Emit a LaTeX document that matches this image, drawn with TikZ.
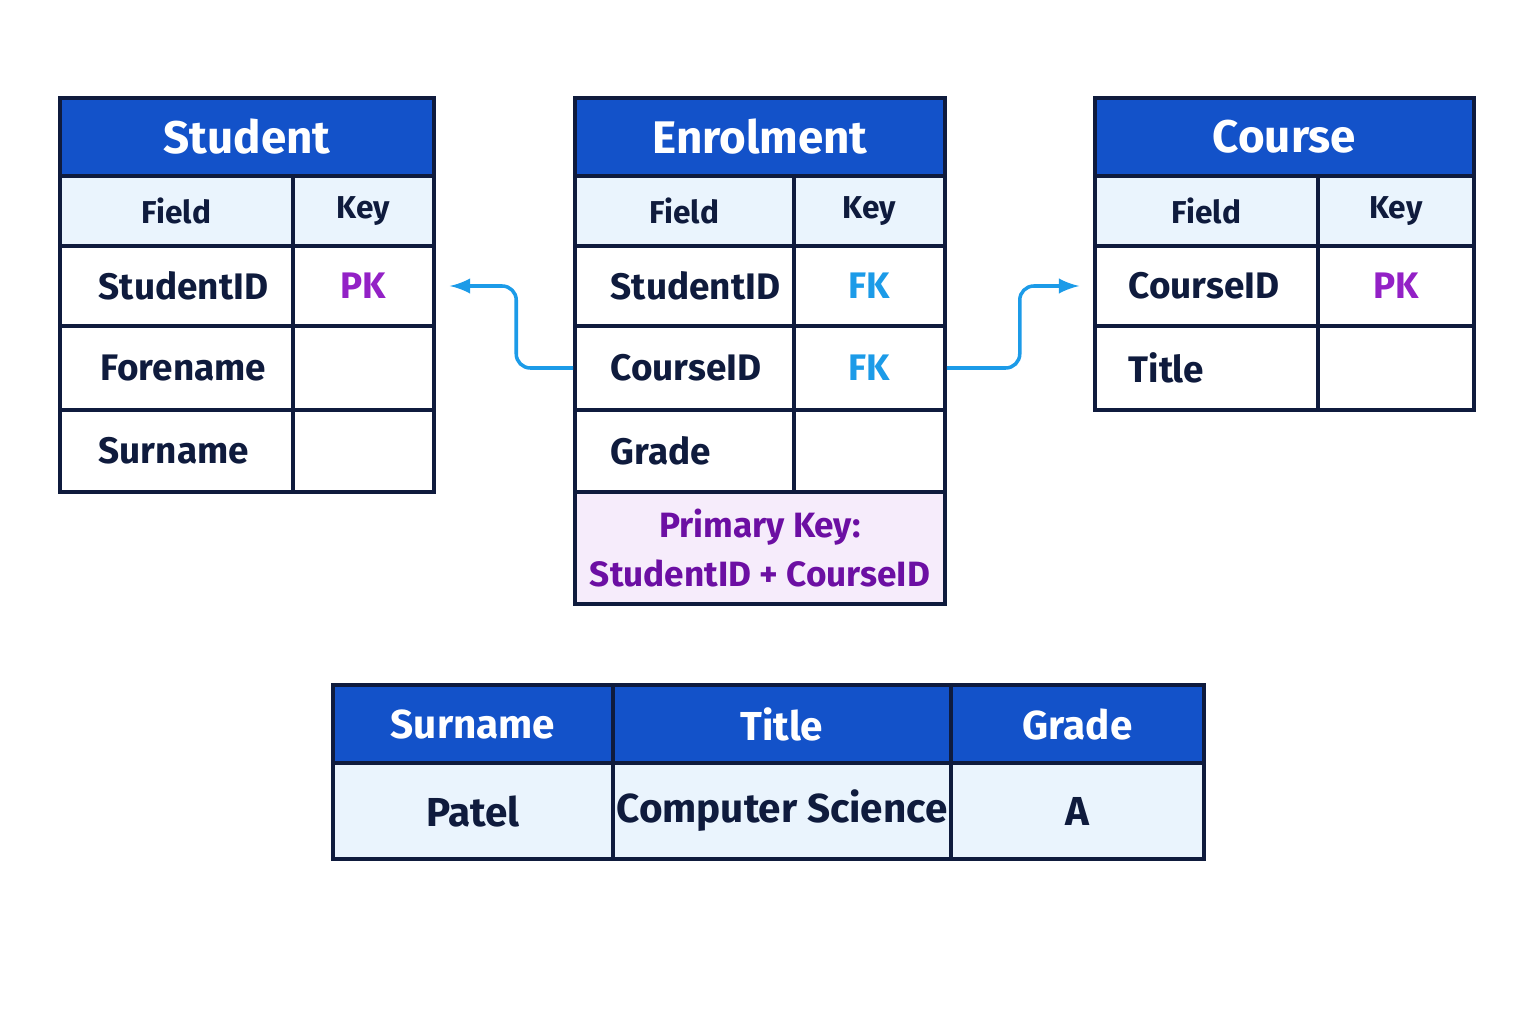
\documentclass[tikz,border=0pt]{standalone}
\usepackage{fontspec}
\setmainfont{Fira Sans}
\usetikzlibrary{positioning}
\definecolor{hdrblue}{HTML}{1352C9}
\definecolor{rowblue}{HTML}{EAF4FD}
\definecolor{navy}{HTML}{0F1B3D}
\definecolor{pkpurple}{HTML}{9321C6}
\definecolor{fkcyan}{HTML}{1C9BE8}
\definecolor{notefill}{HTML}{F6ECFB}
\definecolor{notetext}{HTML}{6C0FA3}

\tikzset{
  cell/.style={draw=navy,line width=1pt,inner sep=0pt,fill=white},
  hdrcell/.style={cell,fill=hdrblue,text=white,font=\bfseries\fontsize{13}{15}\selectfont},
  subcell/.style={cell,fill=rowblue,text=navy,font=\fontsize{9}{11}\selectfont\bfseries},
  fieldtxt/.style={anchor=west,text=navy,font=\fontsize{10.5}{12}\selectfont\bfseries},
  keytxt/.style={font=\fontsize{10.5}{12}\selectfont\bfseries},
  link/.style={fkcyan,line width=1pt,rounded corners=4pt,-latex}
}
% cell: name, x1, y1, x2, y2, style, text
\newcommand{\tcell}[7]{%
  \node[#6,minimum width={(#4-#2)*0.01cm},minimum height={(#5-#3)*0.01cm}]
    (#1) at ({(#2+#4)/2},{(#3+#5)/2}) {#7};}

\begin{document}
\begin{tikzpicture}[x=0.01cm,y=-0.01cm]
\useasboundingbox[fill=white] (0,0) rectangle (1536,1024);

% Student
\tcell{sHead}{60}{98}{434}{176}{hdrcell}{Student}
\tcell{sF}{60}{176}{293}{246}{subcell}{Field}
\tcell{sK}{293}{176}{434}{246}{subcell}{Key}
\tcell{sR1}{60}{246}{293}{326}{cell}{}
\tcell{sR1k}{293}{246}{434}{326}{cell,keytxt,text=pkpurple}{PK}
\tcell{sR2}{60}{326}{293}{410}{cell}{}
\tcell{sR2k}{293}{326}{434}{410}{cell}{}
\tcell{sR3}{60}{410}{293}{492}{cell}{}
\tcell{sR3k}{293}{410}{434}{492}{cell}{}
\node[fieldtxt] at ([xshift=0.28cm]sR1.west) {StudentID};
\node[fieldtxt] at ([xshift=0.3cm]sR2.west) {Forename};
\node[fieldtxt] at ([xshift=0.28cm]sR3.west) {Surname};

% Enrolment
\tcell{eHead}{575}{98}{945}{176}{hdrcell}{Enrolment}
\tcell{eF}{575}{176}{794}{246}{subcell}{Field}
\tcell{eK}{794}{176}{945}{246}{subcell}{Key}
\tcell{eR1}{575}{246}{794}{326}{cell}{}
\tcell{eR1k}{794}{246}{945}{326}{cell,keytxt,text=fkcyan}{FK}
\tcell{eR2}{575}{326}{794}{410}{cell}{}
\tcell{eR2k}{794}{326}{945}{410}{cell,keytxt,text=fkcyan}{FK}
\tcell{eR3}{575}{410}{794}{492}{cell}{}
\tcell{eR3k}{794}{410}{945}{492}{cell}{}
\tcell{eNote}{575}{492}{945}{604}{cell,fill=notefill,text=notetext,align=center,font=\fontsize{10}{14}\selectfont\bfseries}{Primary Key:\\StudentID + CourseID}
\node[fieldtxt] at ([xshift=0.25cm]eR1.west) {StudentID};
\node[fieldtxt] at ([xshift=0.25cm]eR2.west) {CourseID};
\node[fieldtxt] at ([xshift=0.25cm]eR3.west) {Grade};

% Course
\tcell{cHead}{1095}{98}{1474}{176}{hdrcell}{Course}
\tcell{cF}{1095}{176}{1318}{246}{subcell}{Field}
\tcell{cK}{1318}{176}{1474}{246}{subcell}{Key}
\tcell{cR1}{1095}{246}{1318}{326}{cell}{}
\tcell{cR1k}{1318}{246}{1474}{326}{cell,keytxt,text=pkpurple}{PK}
\tcell{cR2}{1095}{326}{1318}{410}{cell}{}
\tcell{cR2k}{1318}{326}{1474}{410}{cell}{}
\node[fieldtxt] at ([xshift=0.23cm]cR1.west) {CourseID};
\node[fieldtxt] at ([xshift=0.23cm]cR2.west) {Title};

% links
\draw[link] (eR2.west) -- ++(-57,0) |- ([xshift=4pt]sR1k.east);
\draw[link] (eR2k.east) -- ++(73,0) |- ([xshift=-4pt]cR1.west);

% result table
\tcell{rH1}{333}{685}{613}{763}{hdrcell,font=\bfseries\fontsize{11.5}{13}\selectfont}{Surname}
\tcell{rH2}{613}{685}{951}{763}{hdrcell,font=\bfseries\fontsize{11.5}{13}\selectfont}{Title}
\tcell{rH3}{951}{685}{1204}{763}{hdrcell,font=\bfseries\fontsize{11.5}{13}\selectfont}{Grade}
\tcell{rD1}{333}{763}{613}{859}{cell,fill=rowblue,text=navy,font=\fontsize{11.5}{13}\selectfont\bfseries}{Patel}
\tcell{rD2}{613}{763}{951}{859}{cell,fill=rowblue,text=navy,font=\fontsize{11.5}{13}\selectfont\bfseries}{Computer Science}
\tcell{rD3}{951}{763}{1204}{859}{cell,fill=rowblue,text=navy,font=\fontsize{11.5}{13}\selectfont\bfseries}{A}
\end{tikzpicture}
\end{document}
